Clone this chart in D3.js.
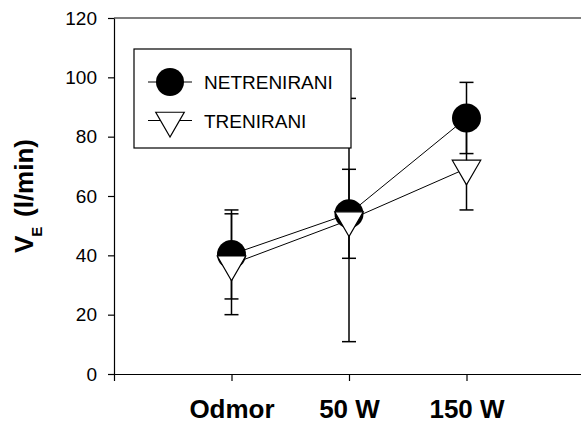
<!DOCTYPE html>
<html>
<head>
  <meta charset="utf-8">
  <title>VE</title>
  <script src="https://d3js.org/d3.v7.min.js"></script>
  <style>
    body { margin: 0; background: #fff; }
    svg { display: block; }
    svg text { font-family: "Liberation Sans", Arial, sans-serif; fill: #000; }
    .axis path, .axis line { stroke: #000; stroke-width: 1.2; }
  </style>
</head>
<body>
  <div id="chart"></div>
  <script>
    "use strict"

    var categorias = ["Odmor", "50 W", "150 W"];
    var netrenirani = [40.3, 54.0, 86.3];
    var netreniraniErr = [15, 15, 12];
    var trenirani = [37.0, 51.9, 69.3];
    var treniraniErr = [17, 41, 14];
    var yTicks = [0, 20, 40, 60, 80, 100, 120];
    var legenda = ["NETRENIRANI", "TRENIRANI"];

    var largura = 581, altura = 423;

    var svg = d3.select("#chart").append("svg")
      .attr("width", largura)
      .attr("height", altura);

    var x = d3.scaleLinear().domain([0, 4]).range([114, 584]);
    var y = d3.scaleLinear().domain([0, 120]).range([374, 18]);

    var pontos = function(vals, errs) {
      return vals.map(function(v, i) { return {x: i + 1, v: v, e: errs[i]}; });
    };
    var serieA = pontos(netrenirani, netreniraniErr);
    var serieB = pontos(trenirani, treniraniErr);

    // axes
    var eixoY = svg.append("g")
      .attr("class", "axis")
      .attr("transform", "translate(" + x(0) + ",0)")
      .call(d3.axisLeft(y).tickValues(yTicks).tickSize(6).tickSizeOuter(0).tickPadding(11));
    eixoY.selectAll("text").style("font-size", "19px");

    var eixoX = svg.append("g")
      .attr("class", "axis")
      .attr("transform", "translate(0," + y(0) + ")")
      .call(d3.axisBottom(x).tickValues([0, 1, 2, 3, 4]).tickSize(7).tickSizeOuter(0)
        .tickFormat(function(d) { return categorias[d - 1] || ""; }));
    eixoX.selectAll("text")
      .attr("y", 44)
      .attr("dy", 0)
      .style("font-size", "26px")
      .style("font-weight", "bold");

    svg.append("line")
      .attr("x1", x(0)).attr("x2", x(4))
      .attr("y1", y(120)).attr("y2", y(120))
      .attr("stroke", "#000").attr("stroke-width", 1.2);

    // y title
    var titulo = svg.append("text")
      .attr("transform", "translate(33,253) rotate(-90)")
      .style("font-weight", "bold");
    titulo.append("tspan").style("font-size", "26px").text("V");
    titulo.append("tspan").style("font-size", "15px").attr("dy", 9).attr("dx", -1).text("E");
    titulo.append("tspan").style("font-size", "26px").attr("x", 36).attr("dy", -9).text("(l/min)");

    var capW = 7;
    function erros(dados) {
      var g = svg.append("g").attr("stroke", "#000").attr("stroke-width", 1.5);
      g.selectAll(".v").data(dados).enter().append("line")
        .attr("x1", d => x(d.x)).attr("x2", d => x(d.x))
        .attr("y1", d => y(d.v + d.e)).attr("y2", d => y(d.v - d.e));
      g.selectAll(".t").data(dados).enter().append("line")
        .attr("x1", d => x(d.x) - capW).attr("x2", d => x(d.x) + capW)
        .attr("y1", d => y(d.v + d.e)).attr("y2", d => y(d.v + d.e));
      g.selectAll(".b").data(dados).enter().append("line")
        .attr("x1", d => x(d.x) - capW).attr("x2", d => x(d.x) + capW)
        .attr("y1", d => y(d.v - d.e)).attr("y2", d => y(d.v - d.e));
    }
    erros(serieA);
    erros(serieB);

    var linha = d3.line().x(d => x(d.x)).y(d => y(d.v));
    [serieA, serieB].forEach(function(s) {
      svg.append("path").datum(s)
        .attr("d", linha)
        .attr("fill", "none")
        .attr("stroke", "#000")
        .attr("stroke-width", 1);
    });

    var triangulo = d3.symbol().type(d3.symbolTriangle).size(352);

    svg.selectAll(".circ").data(serieA).enter().append("circle")
      .attr("cx", d => x(d.x)).attr("cy", d => y(d.v))
      .attr("r", 14.5)
      .attr("fill", "#000");

    svg.selectAll(".tri").data(serieB).enter().append("path")
      .attr("d", triangulo)
      .attr("transform", d => "translate(" + x(d.x) + "," + y(d.v) + ") rotate(180)")
      .attr("fill", "#fff")
      .attr("stroke", "#000")
      .attr("stroke-width", 1.2);

    // legend
    var leg = svg.append("g");
    leg.append("rect")
      .attr("x", 134).attr("y", 49)
      .attr("width", 217).attr("height", 99)
      .attr("fill", "#fff").attr("stroke", "#000").attr("stroke-width", 1.2);

    var legY = [82, 120.5];
    legY.forEach(function(ly, i) {
      leg.append("line")
        .attr("x1", 148).attr("x2", 192)
        .attr("y1", ly).attr("y2", ly)
        .attr("stroke", "#000").attr("stroke-width", 1);
      if (i === 0) {
        leg.append("circle").attr("cx", 170).attr("cy", ly).attr("r", 14).attr("fill", "#000");
      } else {
        leg.append("path").attr("d", triangulo)
          .attr("transform", "translate(170," + ly + ") rotate(180)")
          .attr("fill", "#fff").attr("stroke", "#000").attr("stroke-width", 1.2);
      }
      leg.append("text")
        .attr("x", 204).attr("y", ly + 7)
        .style("font-size", "19px")
        .text(legenda[i]);
    });
  </script>
</body>
</html>
